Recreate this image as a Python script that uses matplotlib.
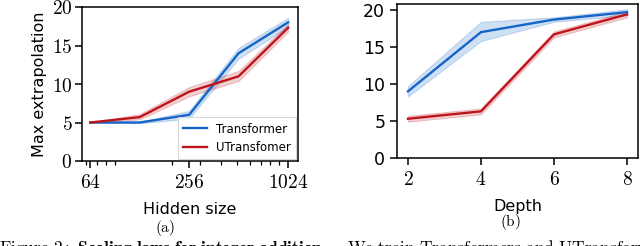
import matplotlib
matplotlib.use("Agg")
import matplotlib.pyplot as plt
from matplotlib.ticker import FixedLocator, FixedFormatter, NullFormatter, LogLocator

plt.rcParams['mathtext.fontset'] = 'cm'
plt.rcParams['font.family'] = ['DejaVu Sans']

# Panel (a): hidden size
hidden = [64, 128, 256, 512, 1024]
tf_hidden = [5, 5, 6, 14, 18]
tf_hidden_lo = [5, 4.9, 5.5, 13.3, 17.4]
tf_hidden_hi = [5, 5.1, 6.5, 14.7, 18.6]
ut_hidden = [5, 5.7, 9, 11, 17.3]
ut_hidden_lo = [5, 5.4, 8.4, 10.4, 16.8]
ut_hidden_hi = [5, 6.1, 9.6, 11.7, 17.8]

# Panel (b): depth
depth = [2, 4, 6, 8]
tf_depth = [9, 17, 18.7, 19.7]
tf_depth_lo = [8.3, 15.8, 18.4, 19.3]
tf_depth_hi = [9.7, 18.4, 19.0, 20.1]
ut_depth = [5.3, 6.3, 16.7, 19.4]
ut_depth_lo = [4.9, 5.9, 16.3, 19.0]
ut_depth_hi = [5.7, 6.7, 17.1, 19.8]

hidden_ticks = [64, 256, 1024]
hidden_ticklabels = ['64', '256', '1024']
depth_ticks = [2, 4, 6, 8]
y_ticks = [0, 5, 10, 15, 20]

BLUE = '#1565c8'
RED = '#c0141c'

fig = plt.figure(figsize=(6.4, 2.46), dpi=100)
W, H = 640, 246

def axpos(x0, y0, x1, y1):
    return [x0 / W, 1 - y1 / H, (x1 - x0) / W, (y1 - y0) / H]

ax1 = fig.add_axes(axpos(82, 7, 298, 161))
ax2 = fig.add_axes(axpos(397, 4, 638, 158))

for ax in (ax1, ax2):
    for s in ax.spines.values():
        s.set_linewidth(1.1)
    ax.tick_params(direction='out', length=5, width=1.1, labelsize=14)
    ax.tick_params(which='minor', length=3, width=0.9)

# (a)
ax1.fill_between(hidden, tf_hidden_lo, tf_hidden_hi, color=BLUE, alpha=0.2, lw=0.8)
ax1.fill_between(hidden, ut_hidden_lo, ut_hidden_hi, color=RED, alpha=0.2, lw=0.8)
ax1.plot(hidden, tf_hidden, color=BLUE, lw=1.7, label='Transformer')
ax1.plot(hidden, ut_hidden, color=RED, lw=1.7, label='UTransfomer')
ax1.set_xscale('log')
ax1.set_xlim(57, 1177)
ax1.set_ylim(0, 20)
ax1.xaxis.set_major_locator(FixedLocator(hidden_ticks))
ax1.xaxis.set_major_formatter(FixedFormatter(['$%s$' % t for t in hidden_ticklabels]))
ax1.xaxis.set_minor_locator(LogLocator(base=10, subs='auto'))
ax1.xaxis.set_minor_formatter(NullFormatter())
ax1.set_yticks(y_ticks)
ax1.set_yticklabels(['$%d$' % t for t in y_ticks])
ax1.tick_params(axis='y', pad=2)
ax1.set_ylabel('Max extrapolation', fontsize=11.5, labelpad=3)
ax1.set_xlabel('Hidden size', fontsize=11.5, labelpad=7)
leg = ax1.legend(loc='lower right', fontsize=8.5, frameon=True, fancybox=False,
                 edgecolor='#d0d0d0', borderaxespad=0.15, handlelength=2.0,
                 borderpad=0.45, labelspacing=0.45)
leg.get_frame().set_linewidth(0.8)

# (b)
ax2.fill_between(depth, tf_depth_lo, tf_depth_hi, color=BLUE, alpha=0.2, lw=0.8)
ax2.fill_between(depth, ut_depth_lo, ut_depth_hi, color=RED, alpha=0.2, lw=0.8)
ax2.plot(depth, tf_depth, color=BLUE, lw=1.7)
ax2.plot(depth, ut_depth, color=RED, lw=1.7)
ax2.set_xlim(1.7, 8.3)
ax2.set_ylim(0, 20.8)
ax2.set_xticks(depth_ticks)
ax2.set_xticklabels(['$%d$' % t for t in depth_ticks])
ax2.set_yticks(y_ticks)
ax2.set_yticklabels([str(t) for t in y_ticks], fontsize=12.5)
ax2.set_xlabel('Depth', fontsize=11.5, labelpad=7)

# sub-captions
fig.text(165 / W, 1 - 228 / H, r'$\mathrm{(a)}$', ha='center', va='center', fontsize=11)
fig.text(510 / W, 1 - 222 / H, r'$\mathrm{(b)}$', ha='center', va='center', fontsize=11)

# cut-off figure caption (cut by the bottom edge, as in the source page)
fig.text(-1 / W, 1 - 253 / H,
         r'$\mathrm{Figure\ 2:\ }\mathbf{Scaling\ laws\ for\ integer\ addition.}$',
         ha='left', va='baseline', fontsize=12.5)
fig.text(347 / W, 1 - 253 / H,
         r'$\mathrm{We\ train\ Transformers\ and\ UTransformers}$',
         ha='left', va='baseline', fontsize=12.5)

fig.savefig('out.png', dpi=100)
